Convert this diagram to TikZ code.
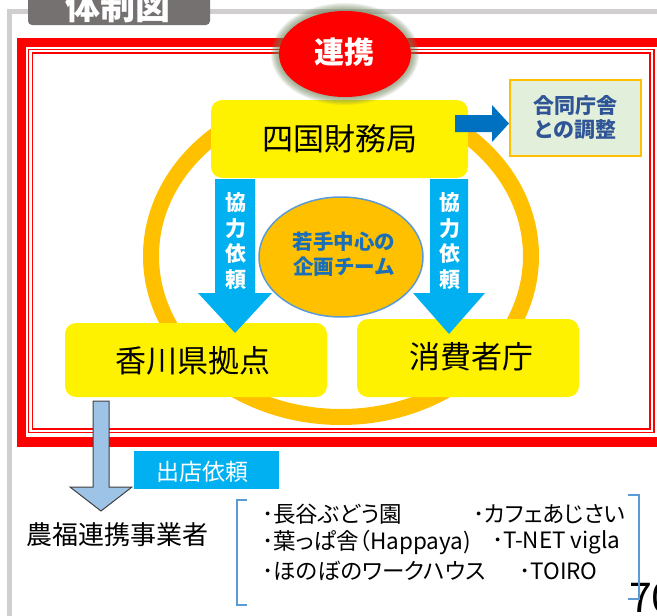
\documentclass[tikz,border=0pt]{standalone}
\usepackage{fontspec}
\setmainfont{Noto Sans CJK JP}
\newfontfamily\jpp[RawFeature=+palt]{Noto Sans CJK JP}
\usetikzlibrary{shapes.geometric}
\definecolor{ringC}{HTML}{FFC000}
\definecolor{arrowC}{HTML}{00B0F0}
\definecolor{darkArrow}{HTML}{0070C0}
\definecolor{tabC}{HTML}{767171}
\definecolor{frameC}{HTML}{D0CECE}
\definecolor{teamText}{HTML}{1A6FB8}
\definecolor{bracketC}{HTML}{5B9BD5}
\definecolor{greenBox}{HTML}{E2EFDA}
\definecolor{adjText}{HTML}{2F5597}
\definecolor{lightArrow}{HTML}{9DC3E6}
\definecolor{glowC}{RGB}{110,130,90}
\definecolor{redC}{HTML}{FF0000}
\begin{document}
\begin{tikzpicture}[x=1pt,y=-1pt,
  ybox/.style={fill=yellow, rounded corners=11pt, inner sep=0pt},
  bigtext/.style={inner sep=0pt, font=\fontsize{31}{36}\selectfont},
  vtext/.style={inner sep=0pt, align=center, text=white, font=\bfseries\fontsize{21}{25.5}\selectfont},
  blockarrow/.style={fill=arrowC},
  itemtext/.style={anchor=west, inner sep=0pt, font=\jpp\fontsize{22.5}{26}\selectfont},
  bracket/.style={draw=bracketC, line width=2pt}]
\useasboundingbox (0,0) rectangle (657,616);
% grey outer frame
\draw[frameC, line width=4.5pt] (9.3,630) -- (9.3,11.5) -- (680,11.5);
% title tab
\fill[tabC, rounded corners=4pt] (28,-12) rectangle (210,25);
\node[inner sep=0pt, text=white, font=\bfseries\fontsize{35}{35}\selectfont] (title) at (118,6) {体制図};
% red frame
\draw[redC, line width=9.5pt] (21.3,42.5) rectangle (680,441.8);
\draw[redC, line width=1.8pt] (28.5,49.5) rectangle (654,432.5);
\draw[redC, line width=1.8pt] (32.5,53) rectangle (650,429);
% orange ring (its top is hidden behind the boxes)
\begin{scope}
  \clip (0,100) rectangle (657,616) (0,0) rectangle (240,100) (440,0) rectangle (657,100);
  \draw[ringC, line width=16pt] (341,256) ellipse [x radius=190pt, y radius=161pt];
\end{scope}
% yellow boxes
\node[ybox, minimum width=257pt, minimum height=78pt] (sk) at (339.5,139) {};
\node[bigtext] (skt) at (340,139) {四国財務局};
\node[ybox, minimum width=262pt, minimum height=74pt] (kg) at (196,360) {};
\node[bigtext] (kgt) at (193,361) {香川県拠点};
\node[ybox, minimum width=222pt, minimum height=78pt] (sh) at (468,358) {};
\node[bigtext] (sht) at (471,357) {消費者庁};
% down arrows
\fill[blockarrow] (215,179) -- (255,179) -- (255,293) -- (272,293) -- (235,333) -- (198,293) -- (215,293) -- cycle;
\fill[blockarrow] (430,179) -- (468,179) -- (468,293) -- (485,293) -- (449,334) -- (413,293) -- (430,293) -- cycle;
\node[vtext] (req1) at (236,241) {協\\力\\依\\頼};
\node[vtext] (req2) at (449.5,241) {協\\力\\依\\頼};
% team ellipse
\node[ellipse, fill=ringC, draw=bracketC, line width=1.5pt, minimum width=164pt, minimum height=120pt, inner sep=0pt] (team) at (341,257) {};
\node[inner sep=0pt, align=center, text=teamText, font=\bfseries\fontsize{20.5}{25}\selectfont] (teamt) at (344,254) {若手中心の\\企画チーム};
% adjustment box
\fill[darkArrow] (455,115) -- (492,115) -- (492,105) -- (509,123.5) -- (492,142) -- (492,132) -- (455,132) -- cycle;
\node[draw=ringC, line width=2pt, fill=greenBox, minimum width=131pt, minimum height=76pt, inner sep=0pt] (adj) at (575,117.5) {};
\node[inner sep=0pt, align=center, text=adjText, font=\bfseries\fontsize{21}{24}\selectfont] (adjt) at (575,118) {合同庁舎\\との調整};
% glow and red ellipse
\foreach \i in {0,...,9} {
  \fill[glowC, opacity=0.1] (345,54) ellipse [x radius={66pt+\i*0.9pt}, y radius={43pt+\i*0.9pt}];
}
\node[ellipse, fill=redC, minimum width=132pt, minimum height=86pt, inner sep=0pt] (renkei) at (345,54) {};
\node[inner sep=0pt, text=white, font=\bfseries\fontsize{30}{30}\selectfont] (renkeit) at (344,52) {連携};
% bottom arrow
\filldraw[fill=lightArrow, draw=black!75, line width=1pt] (93,401) -- (109,401) -- (109,487) -- (132,487) -- (101,511) -- (70,487) -- (93,487) -- cycle;
\node[fill=arrowC, minimum width=145pt, minimum height=38pt, inner sep=0pt] (shop) at (206.5,470) {};
\node[inner sep=0pt, text=white, font=\fontsize{23}{23}\selectfont] (shopt) at (202,472) {出店依頼};
\node[inner sep=0pt, font=\fontsize{26}{26}\selectfont] (nofuku) at (118,535) {農福連携事業者};
% list
\node[itemtext] (i1) at (262,514) {･長谷ぶどう園};
\node[itemtext] (i2) at (473,514) {･カフェあじさい};
\node[itemtext] (i3) at (262,542) {･葉っぱ舎（Happaya)};
\node[itemtext] (i4) at (492,542) {･T-NET vigla};
\node[itemtext] (i5) at (262,571) {･ほのぼのワークハウス};
\node[itemtext] (i6) at (519,571) {･TOIRO};
\node[anchor=base west, inner sep=0pt, font=\fontsize{41}{41}\selectfont] (page) at (629,612) {70};
\draw[bracket] (247,500) -- (237,500) -- (237,605) -- (247,605);
\draw[bracket] (628,495) -- (639,495) -- (639,599) -- (628,599);
\end{tikzpicture}
\end{document}
